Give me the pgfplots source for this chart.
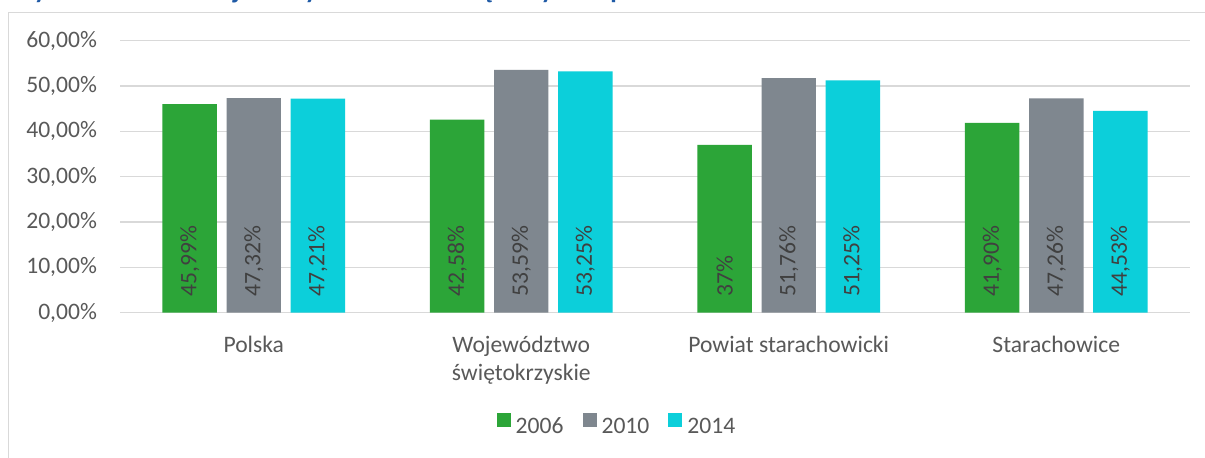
\documentclass[border=0pt]{standalone}
\usepackage{pgfplots}
\pgfplotsset{compat=1.18}
\usepackage{fontspec}
\setmainfont{Carlito}
\definecolor{cA}{HTML}{2CA538}
\definecolor{cB}{HTML}{7F878F}
\definecolor{cC}{HTML}{0CCFDA}
\definecolor{tgray}{HTML}{595959}
\definecolor{lgray}{HTML}{404040}
\definecolor{gridc}{HTML}{D9D9D9}
\definecolor{ttl}{HTML}{1F5AA6}
\newcommand{\cf}{\fontsize{11.8}{14}\selectfont}
\begin{document}
\begin{tikzpicture}
\path[use as bounding box, clip] (0,0) rectangle (602.5pt,229pt);
\fill[white] (0,0) rectangle (602.5pt,229pt);
\node[anchor=base west, inner sep=0pt, font=\fontsize{13.3}{16}\selectfont\bfseries, text=ttl] at (5pt,229.6pt) {Wykres 4. Frekwencja w wyborach samorządowych w porównaniu};
\draw[gridc, line width=0.75pt] (4.25pt,0) -- (4.25pt,222.75pt) -- (602.5pt,222.75pt);
\begin{axis}[
  at={(60pt,72.65pt)}, anchor=south west,
  scale only axis, width=535pt, height=136pt,
  xmin=-0.5, xmax=3.5, ymin=0, ymax=60, clip=false,
  axis line style={draw=none},
  ymajorgrids, grid style={gridc, line width=0.75pt},
  major tick length=0pt,
  xtick={0,1,2,3},
  xticklabels={Polska,{\begin{tabular}[t]{@{}c@{}}Województwo\\świętokrzyskie\end{tabular}},Powiat starachowicki,Starachowice},
  ytick={0,10,20,30,40,50,60},
  yticklabels={{0,00\%},{10,00\%},{20,00\%},{30,00\%},{40,00\%},{50,00\%},{60,00\%}},
  yticklabel style={font=\cf, text=tgray, anchor=east, inner sep=0pt, xshift=-11.35pt},
  xticklabel style={font=\cf, text=tgray, anchor=base, inner sep=0pt, yshift=-19.9pt},
  legend columns=3,
  legend style={at={(axis description cs:0.4654,-0.4184)}, anchor=center, draw=none, fill=none, font=\cf, text=tgray,
    /tikz/every odd column/.append style={column sep=0.5pt},
    /tikz/every even column/.append style={column sep=7.5pt}},
]
\addplot[ybar, bar width=0.2037, bar shift=-0.2393, fill=cA, draw=none,
  legend image code/.code={\fill[cA] (0pt,0.2pt) rectangle (7pt,7.2pt);}]
  coordinates {(0,45.99) (1,42.58) (2,37) (3,41.90)};
\addlegendentry{2006}
\addplot[ybar, bar width=0.2037, bar shift=0, fill=cB, draw=none,
  legend image code/.code={\fill[cB] (0pt,0.2pt) rectangle (7pt,7.2pt);}]
  coordinates {(0,47.32) (1,53.59) (2,51.76) (3,47.26)};
\addlegendentry{2010}
\addplot[ybar, bar width=0.2037, bar shift=0.2393, fill=cC, draw=none,
  legend image code/.code={\fill[cC] (0pt,0.2pt) rectangle (7pt,7.2pt);}]
  coordinates {(0,47.21) (1,53.25) (2,51.25) (3,44.53)};
\addlegendentry{2014}
\addplot[draw=none, mark=none, forget plot, nodes near coords, point meta=explicit symbolic,
  every node near coord/.append style={rotate=90, anchor=west, inner xsep=8pt, inner ysep=0pt, font=\cf, text=lgray}]
  coordinates {(-0.2393,0) [45,99\%] (0.7607,0) [42,58\%] (1.7607,0) [37\%] (2.7607,0) [41,90\%]};
\addplot[draw=none, mark=none, forget plot, nodes near coords, point meta=explicit symbolic,
  every node near coord/.append style={rotate=90, anchor=west, inner xsep=8pt, inner ysep=0pt, font=\cf, text=lgray}]
  coordinates {(0,0) [47,32\%] (1,0) [53,59\%] (2,0) [51,76\%] (3,0) [47,26\%]};
\addplot[draw=none, mark=none, forget plot, nodes near coords, point meta=explicit symbolic,
  every node near coord/.append style={rotate=90, anchor=west, inner xsep=8pt, inner ysep=0pt, font=\cf, text=lgray}]
  coordinates {(0.2393,0) [47,21\%] (1.2393,0) [53,25\%] (2.2393,0) [51,25\%] (3.2393,0) [44,53\%]};
\end{axis}
\end{tikzpicture}
\end{document}
